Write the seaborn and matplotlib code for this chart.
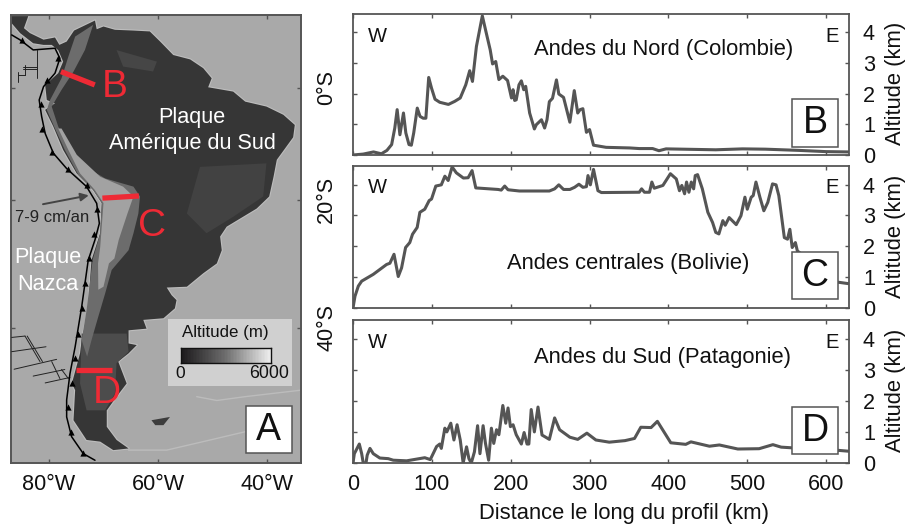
import numpy as np
import pandas as pd
import matplotlib
matplotlib.use("Agg")
import matplotlib.pyplot as plt
from matplotlib.patches import Rectangle
import seaborn as sns

# ---------- profiles (distance km, altitude km) ----------
dist_b = [0,13,26,36,43,49,53,56,59.5,64,67,71,74,77,81.5,85,89,92.4,96,99.6,104,110,121,129,136,143,148,151.5,156.5,164,169,174,177,181,185,190,196,201,203,205,207,210.5,213.5,216.5,219,224,230,232.5,239,243,246,249,253,258,261,267,275,280.6,285,288,291.5,296,300,305,321,351,363,380,388,397,460,494,523,566,600,628]
alt_b = [0,.03,.10,.04,.15,.34,.88,1.48,.66,1.37,.72,.34,.32,.72,1.53,1.26,1.2,1.2,2.53,2.18,1.82,1.72,1.65,1.75,1.86,2.29,2.75,2.4,3.54,4.54,3.98,3.43,2.97,3.05,2.46,2.57,2.43,1.86,2.13,1.78,1.8,2.29,2.42,2.13,2.24,1.37,.85,.99,1.15,.88,1.15,1.74,1.85,2.45,1.99,1.88,1.07,2.10,1.37,1.48,1.51,.74,.83,.32,.25,.23,.21,.21,.14,.2,.17,.2,.19,.15,.11,.1]

dist_c = [0,2.5,6.75,11,25.7,42.6,46.8,52,57.4,61.6,66.7,72,75.5,81.4,84.8,91,96.6,99.6,105,112,116.5,120.7,125.7,131,140,146,151,155.7,184,188,192.4,196.6,211,249,255.7,261,267,275,281,286.5,291.5,296,298,301,305,310.6,315,363,366,369.6,376,379,382,393,402.5,410,414,417,420.5,423,426,429,432,434,437,443,450,456,460,464,469,472,477,486,492,497,500,505,507.5,511,516,521,526,532,536.5,540,547,551,554,557,561,563.5,614,628]
alt_c = [0,.38,.71,.87,1.09,1.41,1.45,1.74,1.02,1.30,1.96,2.12,2.39,2.61,3.1,3.2,3.48,3.53,3.95,3.99,4.27,4.13,4.57,4.38,4.21,4.22,4.45,3.89,3.84,3.82,3.95,3.83,3.79,3.79,3.86,3.99,3.84,3.84,3.91,4.01,3.91,3.93,4.29,3.99,4.49,3.8,3.74,3.75,3.86,3.75,3.75,4.08,3.88,3.97,4.35,4.18,3.8,3.97,3.7,4.08,3.75,4.08,3.86,4.29,4.32,3.86,3.1,2.77,2.45,2.4,2.83,2.68,2.93,2.7,2.99,3.59,3.2,3.59,3.64,4.08,3.59,3.15,3.42,4.02,3.99,3.64,2.28,2.23,2.55,1.96,2.12,1.85,.84,.79]

dist_d = [0,1.7,8,11,13,16.5,18,21.5,25.7,34,44.7,51,68,91,98,106,110,112,116.5,119,124,128,132,136,139.7,144,147,150,154,158,161,165,168,172,175.5,178.5,182,185,190,193.7,196.6,199.6,203,207,213.5,217,220.7,223,226,230,234.6,239.7,249,255.7,262,275,285,296.6,308,325,345,357,365,378,386,403,422,428.5,452,464.6,488,515,532.5,543,555.6,614,628]
alt_d = [0,.30,.61,.30,0,0,.25,.47,.30,.16,.14,.09,.07,.17,.11,.53,.61,.47,1.12,1.0,1.28,.74,1.23,.74,0,.52,.14,0,.36,1.2,.3,1.2,.63,.09,1.12,.63,1.07,.91,1.85,1.28,1.77,1.17,1.23,.91,.61,.98,.61,.61,1.72,1.0,1.8,.9,.76,1.45,1.07,.83,.76,.96,.74,.67,.72,.79,1.15,1.14,1.34,.65,.6,.68,.54,.58,.45,.46,.59,.51,.49,.41,.38]

dist_ticks = [0,100,200,300,400,500,600]
alt_ticks = [0,1,2,3,4]
lon_ticks = [-80,-60,-40]
lon_labels = ["80°W","60°W","40°W"]
lat_ticks = [0,20,40]
lat_labels = ["0°S","20°S","40°S"]

# ---------- map outlines (lon, Mercator northing in degrees) ----------
coast_lon = [-86.85,-83.8,-84.6,-83.5,-81.0,-78.9,-78.1,-76.76,-75.4,-71.56,-71.25,-70.0,-67.9,-64.5,-61.5,-59.6,-57.2,-54.1,-51.7,-50.15,-50.8,-46.2,-44.0,-40.1,-37.0,-34.9,-35.2,-38.2,-38.8,-39.6,-41.9,-47.4,-48.6,-48.3,-49.2,-51.7,-54.7,-58.4,-57.5,-56.6,-56.9,-59.0,-62.7,-62.1,-65.4,-65.4,-63.9,-65.4,-67.3,-65.75,-67.6,-69.4,-69.4,-67.6,-65.4,-68.2,-70.6,-73.1,-75.5,-75.2,-75.8,-74.3,-74.0,-72.8,-72.5,-72.2,-70.6,-70.3,-71.9,-74.9,-77.4,-79.2,-80.7,-78.9,-80.4,-80.7,-78.3,-77.4,-78.3,-79.5,-81.0,-82.9,-85.3,-86.85]
coast_y = [13.1,13.1,10.9,10.0,8.8,9.2,7.85,8.45,10.46,12.29,10.7,11.2,10.6,10.46,10.3,8.45,6.0,5.2,3.6,1.76,.12,-.67,-2.5,-3.4,-4.9,-6.75,-9.0,-13.1,-16.2,-19.8,-22.0,-25.3,-27.1,-29.6,-32.0,-33.8,-36.25,-36.4,-37.8,-38.7,-40.2,-42.0,-42.3,-43.9,-44.2,-46.6,-46.9,-48.4,-49.9,-53.9,-56.3,-58.8,-61.8,-64.2,-65.75,-66.05,-64.5,-64.2,-60.6,-55.1,-53.9,-48.4,-46.0,-40.5,-35.6,-31.4,-26.5,-21.0,-18.6,-15.6,-11.3,-7.05,-4.0,-2.8,-2.2,.55,2.7,4.8,6.9,7.85,7.85,8.15,10.0,11.8]

andes_lon = [-75.2,-71.9,-73.4,-75.5,-77.7,-79.5,-78.3,-76.1,-72.8,-69.7,-64.5,-63.3,-63.6,-64.5,-65.4,-68.5,-69.7,-70.95,-72.2,-73,-74,-73.1,-72.5,-72,-70.6,-70.3,-71.9,-74.6,-77.1,-78.9,-80.4,-79.8,-77.7,-76.45]
andes_y = [9.37,11.5,6.93,2.98,-.36,-3.4,-7.05,-11.3,-14.7,-16.5,-18.0,-19.8,-22.9,-26.5,-29.6,-33.2,-37.5,-41.7,-46.0,-49,-46,-40.5,-35.6,-31.4,-26.5,-21,-18.6,-15.9,-11.3,-7.4,-4.0,-2.2,1.76,5.7]
plateau_lon = [-77.7,-74.9,-70.6,-66.4,-64.5,-65.6,-67.2,-68.0,-69.0,-70.0,-70.95,-71.0,-70.6,-70.0,-71.6,-74.3,-76.45,-78.3]
plateau_y = [-7.4,-12.2,-16.2,-18,-19.8,-22.9,-27.7,-31.1,-32,-36.25,-36.8,-32,-29,-21,-18.6,-15.6,-11.3,-7.4]
brazil_lon = [-52.3,-40.1,-40.7,-46.2,-51.1,-54.7]
brazil_y = [-14.4,-13.75,-19.8,-23.5,-26.5,-22.9]
guiana_lon = [-67.6,-60.2,-60.9,-66.4]
guiana_y = [6.9,4.8,3,3.9]
patagonia_lon = [-74,-65.75,-65.4,-67.6,-67.9,-69.7,-73.1,-74.3]
patagonia_y = [-44.8,-44.8,-48.1,-50.2,-55.7,-58.8,-58.8,-53.9]
falkland_lon = [-61.2,-57.8,-59,-60.5]
falkland_y = [-60.6,-60,-61.5,-61.5]

trench_lon = [-86.85,-85.3,-82.9,-78.9,-78.0,-78.9,-81.0,-81.8,-81.35,-80.7,-79.2,-76.76,-73.1,-71.25,-70.76,-71.56,-72.8,-74.0,-75.2,-76.15,-76.76,-76.76,-75.85,-73.7,-71.56]
trench_y = [9.67,8.76,6.93,7.24,5.4,2.68,.24,-2.2,-5.2,-8.3,-11.9,-14.7,-18.0,-21.05,-24.7,-27.7,-31.4,-39.9,-47.2,-52.1,-56.9,-60.0,-63.6,-66.7,-67.9]
teeth_lon = [-85.0,-78.3,-80.4,-81.5,-81.2,-79.5,-76.45,-73.0,-71.1,-71.7,-72.6,-73.4,-74,-74.6,-75.2,-75.8,-76.45,-76,-73.7]
teeth_y = [8.76,5.4,1.46,-2.9,-7.4,-11.6,-14.8,-17.7,-22.1,-26.7,-31.1,-35.6,-40.2,-44.8,-49.3,-53.9,-58.2,-62.7,-66.5]

fracture_segments = [
    ([-82.26,-82.26],[6.93,1.76]), ([-84.7,-82.26],[3.9,3.9]), ([-84.7,-82.26],[3.47,3.47]),
    ([-84.4,-84.4],[4.2,2.37]), ([-85.6,-84.4],[2.37,2.37]), ([-85.6,-85.6],[2.98,1.16]),
    ([-86.85,-84.4],[-45.5,-45.25]), ([-84.4,-81.65],[-45.25,-49.9]), ([-84.0,-81.2],[-45.25,-49.9]),
    ([-86.85,-80.55],[-48.1,-47.2]), ([-86.4,-78.6],[-51.3,-49.5]), ([-79.5,-78.0],[-49.9,-53.0]),
    ([-82.9,-77.1],[-52.55,-51.35]), ([-77.7,-76.45],[-51.35,-53.0]), ([-80.7,-76.15],[-53.8,-52.8]),
]
shelf_segments = [
    ([-65.4,-58.4,-51.7,-44],[-66.05,-66.05,-64.5,-62.7]),
    ([-52.9,-49.2,-44,-33.6],[-56.3,-57,-56.3,-55.1]),
]
profile_lines = {"B":([-77.8,-71.6],[2.98,.55]), "C":([-70.2,-63.5],[-20.1,-19.7]), "D":([-75.05,-68.5],[-51.35,-51.35])}
legend_levels = list(range(0,6001,100))

# ---------- style ----------
sns.set_theme(style="ticks")
plt.rcParams['font.family'] = ['Liberation Sans','DejaVu Sans']
W,H = 907,525
fig = plt.figure(figsize=(W/100,H/100),dpi=100)
SP = "#555555"
TICK = 15.6
def axpx(l,t,r,b):
    return fig.add_axes([l/W,1-b/H,(r-l)/W,(b-t)/H])
def ftext(x,y,s,**k):
    k.setdefault("ha","center"); k.setdefault("va","center")
    return fig.text(x/W,1-y/H,s,**k)
def box(l,t,r,b,letter,size=27):
    fig.add_artist(Rectangle((l/W,1-b/H),(r-l)/W,(b-t)/H,transform=fig.transFigure,fc="white",ec="#555555",lw=1.1,zorder=5))
    ftext((l+r)/2,(t+b)/2+0.5,letter,fontsize=size,color="#111111",zorder=6)

# ---------- map ----------
ax = axpx(11,15,301,463)
ax.set_facecolor("#a9a9a9")
ax.plot(coast_lon,coast_y,color="#bdbdbd",lw=1.6,zorder=1)
for xs,ys in shelf_segments:
    sns.lineplot(x=xs,y=ys,sort=False,estimator=None,color="#bcbcbc",lw=1,ax=ax,zorder=1)
ax.fill(coast_lon,coast_y,color="#363636",lw=0,zorder=2)
ax.fill(falkland_lon,falkland_y,color="#3c3c3c",lw=0,zorder=2)
ax.fill(brazil_lon,brazil_y,color="#424242",lw=0,zorder=2.1)
ax.fill(guiana_lon,guiana_y,color="#464646",lw=0,zorder=2.1)
ax.fill(patagonia_lon,patagonia_y,color="#4c4c4c",lw=0,zorder=2.1)
ax.fill(andes_lon,andes_y,color="#6c6c6c",lw=0,zorder=2.2)
ax.fill(plateau_lon,plateau_y,color="#a2a2a2",lw=0,zorder=2.3)
for xs,ys in fracture_segments:
    sns.lineplot(x=xs,y=ys,sort=False,estimator=None,color="#222222",lw=0.7,ax=ax,zorder=3)
sns.lineplot(x=trench_lon,y=trench_y,sort=False,estimator=None,color="#000000",lw=1.1,ax=ax,zorder=3)
sns.scatterplot(x=teeth_lon,y=teeth_y,marker="^",s=20,color="#000000",linewidth=0,ax=ax,zorder=4)
for name,(xs,ys) in profile_lines.items():
    sns.lineplot(x=xs,y=ys,sort=False,estimator=None,color="#ee2a35",lw=3.8,ax=ax,zorder=5,solid_capstyle="butt")
ax.set_xlim(-86.97,-33.76); ax.set_ylim(-68.4,13.3)
merc = np.degrees(np.log(np.tan(np.pi/4+np.radians(lat_ticks)/2)))
ax.set_xticks(lon_ticks,lon_labels); ax.set_yticks(-merc,lat_labels)
ax.yaxis.tick_right()
ax.tick_params(axis="x",direction="in",length=3,width=1,color=SP,top=True,bottom=True,labelsize=TICK,pad=8,labelcolor="#111111")
ax.tick_params(axis="y",direction="in",length=3,width=1,color=SP,left=True,right=True,labelsize=TICK,pad=11,labelrotation=90,labelcolor="#111111")
for t in ax.get_yticklabels():
    t.set_va("center")
for s in ax.spines.values():
    s.set_visible(True); s.set_color(SP); s.set_linewidth(1.4)
ax.annotate("",xy=(-72.2,-19.5),xytext=(-81.6,-21.3),arrowprops=dict(arrowstyle="-|>",color="#444444",lw=1.4),zorder=6)
ftext(192,118,"Plaque",color="white",fontsize=15.6)
ftext(192,144,"Amérique du Sud",color="white",fontsize=15.6)
ftext(48,257,"Plaque",color="white",fontsize=15.6)
ftext(48,284,"Nazca",color="white",fontsize=15.6)
ftext(52,217,"7-9 cm/an",color="#222222",fontsize=12)
ftext(115,87,"B",color="#ee2a35",fontsize=28)
ftext(152,226,"C",color="#ee2a35",fontsize=28)
ftext(107,393,"D",color="#ee2a35",fontsize=28)

# altitude legend
fig.add_artist(Rectangle((168/W,1-386/H),124/W,67/H,transform=fig.transFigure,fc="#d0d0d0",ec="none",zorder=3))
cax = axpx(181,348,271,363); cax.set_zorder(4)
cmap = sns.blend_palette(["#1c1a1c","#6e6e6e","#eeeeee"],as_cmap=True)
sns.heatmap(np.array([legend_levels]),cmap=cmap,cbar=False,xticklabels=False,yticklabels=False,ax=cax)
for s in cax.spines.values():
    s.set_visible(True); s.set_color("#111111"); s.set_linewidth(1)
ftext(225,333,"Altitude (m)",fontsize=12.2,color="#111111",zorder=6)
ftext(180,374,"0",fontsize=12.5,color="#111111",zorder=6)
ftext(269,374,"6000",fontsize=12.8,color="#111111",zorder=6)
box(245.7,406,291.7,453.3,"A")

# ---------- profiles ----------
panels = [
    (14,155,dist_b,alt_b,"Andes du Nord (Colombie)",(664,50),"B",(99,146.7)),
    (166,308,dist_c,alt_c,"Andes centrales (Bolivie)",(628,263),"C",(251.7,299.3)),
    (320,463,dist_d,alt_d,"Andes du Sud (Patagonie)",(663,357),"D",(406.7,454.3)),
]
for i,(top,bot,xs,ys,title,pos,letter,bx) in enumerate(panels):
    a = axpx(353,top,849,bot)
    df = pd.DataFrame({"dist":xs,"alt":ys})
    sns.lineplot(data=df,x="dist",y="alt",sort=False,estimator=None,color="#555555",lw=2.2,ax=a)
    a.set_xlim(0,629); a.set_ylim(0,4.6)
    a.set_xticks(dist_ticks); a.set_yticks(alt_ticks)
    a.set_xlabel(""); a.set_ylabel("")
    a.yaxis.tick_right()
    a.tick_params(axis="x",direction="in",length=3,width=1,color=SP,top=True,bottom=True,labelbottom=(i==2),labelsize=TICK,pad=8,labelcolor="#111111")
    a.tick_params(axis="y",direction="in",length=3,width=1,color=SP,left=True,right=True,labelsize=TICK,pad=10,labelcolor="#111111")
    for s in a.spines.values():
        s.set_visible(True); s.set_color(SP); s.set_linewidth(1.3)
    ytxt = top+22
    ftext(377,ytxt,"W",fontsize=14.5,color="#111111")
    ftext(832,ytxt,"E",fontsize=14.5,color="#111111")
    ftext(pos[0],pos[1],title,fontsize=15.8,color="#111111")
    ftext(895,(top+bot)/2-1,"Altitude (km)",rotation=90,fontsize=15.8,color="#111111")
    box(791.7,bx[0],838.3,bx[1],letter)
ftext(624,514,"Distance le long du profil (km)",fontsize=15.8,color="#111111")

fig.savefig("out.png",dpi=100)
